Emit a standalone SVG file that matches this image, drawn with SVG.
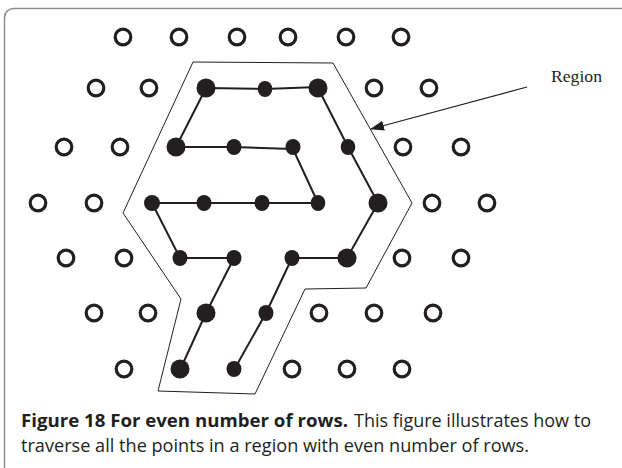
<svg xmlns="http://www.w3.org/2000/svg" width="622" height="468" viewBox="0 0 622 468">
<style>
.o{fill:none;stroke:#231f20;stroke-width:3.2}
.s{fill:#231f20}
.p{fill:none;stroke:#231f20;stroke-width:2;stroke-linejoin:round}
.reg{fill:none;stroke:#231f20;stroke-width:1}
.cap{font-family:"Open Sans","Noto Sans",sans-serif;font-size:18px;fill:#231f20}
</style>
<defs>
<marker id="ah" markerWidth="14" markerHeight="10" refX="13" refY="5" orient="auto" markerUnits="userSpaceOnUse">
<path d="M0,0 L14,5 L0,10 Z" fill="#231f20"/>
</marker>
</defs>
<rect x="4.5" y="8.5" width="700" height="600" rx="9" fill="#fff" stroke="#8c8c8c" stroke-width="1.5"/>
<g id="region">
<polygon class="reg" points="193,62 333,63 412,203 366,288 305,289 255,394 158,391 181,299 123,213"/>
</g>
<g id="connectors">
<path class="p" d="M318,87 L265,89 L206,88 L176,147 L234,147 L293,149 L318,203 L262,203 L204,203 L152,203 L180,258 L234,258 L206,313 L180,370"/>
<path class="p" d="M318,88 L348,147 L378,203 L347,258 L292,258 L266,313 L234,370"/>
<line x1="527" y1="87" x2="371" y2="129" stroke="#231f20" stroke-width="1.1" marker-end="url(#ah)"/>
</g>
<g id="open-points">
<circle class="o" cx="123" cy="37" r="7.8"/><circle class="o" cx="179" cy="37" r="7.8"/><circle class="o" cx="237" cy="37" r="7.8"/><circle class="o" cx="288" cy="37" r="7.8"/><circle class="o" cx="346" cy="37" r="7.8"/><circle class="o" cx="401" cy="37" r="7.8"/>
<circle class="o" cx="96" cy="88" r="7.8"/><circle class="o" cx="149" cy="88" r="7.8"/><circle class="o" cx="374" cy="88" r="7.8"/><circle class="o" cx="429" cy="88" r="7.8"/>
<circle class="o" cx="64" cy="147" r="7.8"/><circle class="o" cx="120" cy="147" r="7.8"/><circle class="o" cx="403" cy="147" r="7.8"/><circle class="o" cx="461" cy="147" r="7.8"/>
<circle class="o" cx="38" cy="203" r="7.8"/><circle class="o" cx="94" cy="203" r="7.8"/><circle class="o" cx="432" cy="203" r="7.8"/><circle class="o" cx="487" cy="203" r="7.8"/>
<circle class="o" cx="66" cy="258" r="7.8"/><circle class="o" cx="124" cy="258" r="7.8"/><circle class="o" cx="402" cy="258" r="7.8"/><circle class="o" cx="461" cy="258" r="7.8"/>
<circle class="o" cx="94" cy="313" r="7.8"/><circle class="o" cx="148" cy="313" r="7.8"/><circle class="o" cx="319" cy="313" r="7.8"/><circle class="o" cx="374" cy="313" r="7.8"/><circle class="o" cx="433" cy="313" r="7.8"/>
<circle class="o" cx="124" cy="369" r="7.8"/><circle class="o" cx="292" cy="369" r="7.8"/><circle class="o" cx="347" cy="369" r="7.8"/><circle class="o" cx="402" cy="369" r="7.8"/>
</g>
<g id="filled-points">
<circle class="s" cx="206" cy="88" r="9.5"/><ellipse class="s" cx="265" cy="89" rx="7.3" ry="8"/><circle class="s" cx="318" cy="88" r="9.5"/>
<circle class="s" cx="176" cy="147" r="9.5"/><ellipse class="s" cx="234" cy="147" rx="7.5" ry="8"/><ellipse class="s" cx="293" cy="147" rx="7.5" ry="8"/><ellipse class="s" cx="348" cy="147" rx="7.3" ry="8"/>
<circle class="s" cx="152" cy="203" r="8"/><ellipse class="s" cx="204" cy="203" rx="7.5" ry="8"/><ellipse class="s" cx="262" cy="203" rx="7.5" ry="8"/><ellipse class="s" cx="318" cy="203" rx="7.3" ry="8"/><circle class="s" cx="378" cy="203" r="9.5"/>
<ellipse class="s" cx="180" cy="258" rx="7.5" ry="8"/><ellipse class="s" cx="234" cy="258" rx="7.5" ry="8"/><ellipse class="s" cx="292" cy="258" rx="7.5" ry="8"/><circle class="s" cx="347" cy="258" r="9.5"/>
<circle class="s" cx="206" cy="313" r="9.5"/><ellipse class="s" cx="266" cy="313" rx="7.5" ry="8"/>
<circle class="s" cx="180" cy="369" r="9.5"/><ellipse class="s" cx="234" cy="369" rx="7.5" ry="8"/>
</g>
<g id="region-label">
<text x="551" y="82" font-family="'Liberation Serif',serif" font-size="17" fill="#231f20" textLength="51" lengthAdjust="spacingAndGlyphs">Region</text>
</g>
<g id="caption">
<text class="cap" y="427"><tspan x="21" font-weight="bold" textLength="327" lengthAdjust="spacingAndGlyphs">Figure 18 For even number of rows.</tspan><tspan x="354" textLength="237" lengthAdjust="spacingAndGlyphs">This figure illustrates how to</tspan></text>
<text class="cap" x="21" y="452" textLength="508" lengthAdjust="spacingAndGlyphs">traverse all the points in a region with even number of rows.</text>
</g>
</svg>
